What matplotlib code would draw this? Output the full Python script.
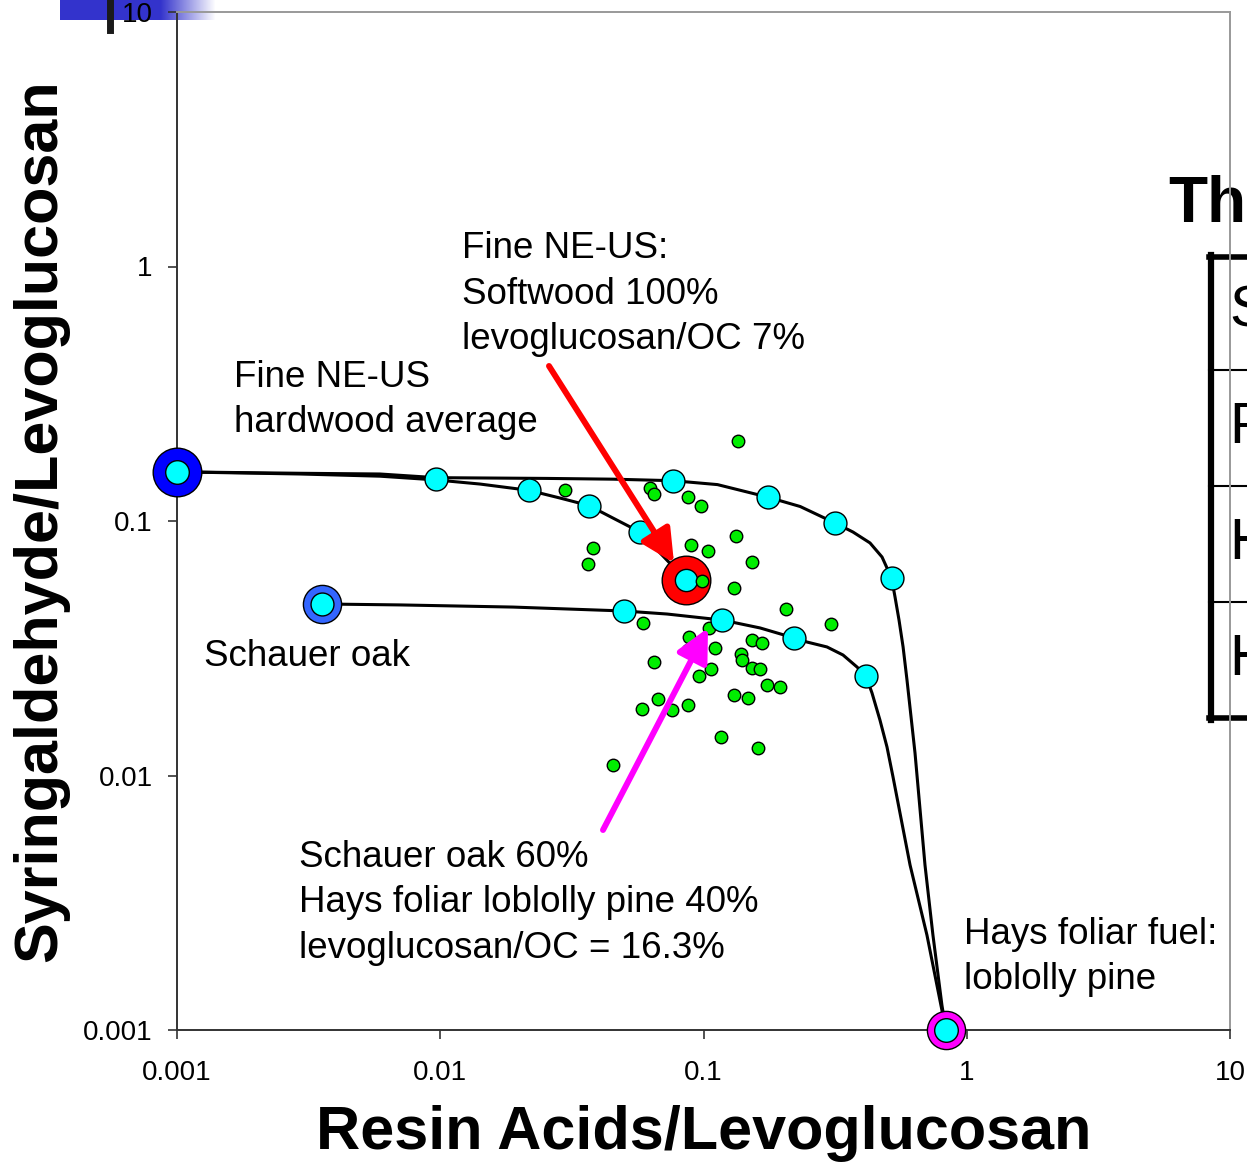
import matplotlib
matplotlib.use("Agg")
import matplotlib.pyplot as plt
from matplotlib.lines import Line2D
import numpy as np

plt.rcParams['font.family'] = ['Liberation Sans', 'DejaVu Sans']

# axis ticks
ticks = [0.001, 0.01, 0.1, 1, 10]
tick_labels = ["0.001", "0.01", "0.1", "1", "10"]

# end members (resin acids/levo, syringaldehyde/levo)
hardwood = (0.001, 0.156)
softwood = (0.0858, 0.0586)
schauer_oak = (0.00355, 0.0472)
loblolly = (0.834, 0.001)

# mixing curve: hardwood average -> Hays loblolly pine
hw_pine_x = [0.001, 0.00293, 0.0059, 0.00964, 0.0254, 0.0453, 0.0766, 0.113, 0.176, 0.233, 0.316,
             0.3697, 0.429, 0.4766, 0.518, 0.534, 0.553, 0.573, 0.593, 0.636, 0.694, 0.744, 0.805, 0.834]
hw_pine_y = [0.156, 0.154, 0.153, 0.148, 0.147, 0.146, 0.144, 0.139, 0.124, 0.114, 0.0982,
             0.0905, 0.0820, 0.0722, 0.0597, 0.0503, 0.0408, 0.0320, 0.0237, 0.01226, 0.00445,
             0.00236, 0.00125, 0.001]
hw_pine_mix_x = [0.00964, 0.0766, 0.176, 0.316, 0.518]
hw_pine_mix_y = [0.146, 0.144, 0.124, 0.0982, 0.0597]

# mixing curve: hardwood average -> softwood
hw_sw_x = [0.001, 0.00293, 0.0059, 0.00964, 0.01416, 0.0217, 0.0285, 0.0367, 0.0453, 0.0574, 0.0858]
hw_sw_y = [0.156, 0.153, 0.150, 0.145, 0.1397, 0.132, 0.1231, 0.115, 0.1027, 0.0905, 0.0586]
hw_sw_mix_x = [0.0217, 0.0367, 0.0574]
hw_sw_mix_y = [0.132, 0.115, 0.0905]

# mixing curve: Schauer oak -> Hays loblolly pine
oak_pine_x = [0.00355, 0.00703, 0.0189, 0.0499, 0.0727, 0.118, 0.164, 0.221, 0.247, 0.2944, 0.3388,
              0.3829, 0.414, 0.4366, 0.468, 0.4978, 0.5248, 0.609, 0.706, 0.798, 0.834]
oak_pine_y = [0.0472, 0.0468, 0.0459, 0.0443, 0.0431, 0.0408, 0.0380, 0.0347, 0.03346, 0.0320,
              0.02975, 0.02669, 0.0246, 0.0211, 0.01652, 0.01294, 0.00986, 0.00445, 0.00236,
              0.00125, 0.001]
oak_pine_mix_x = [0.0499, 0.118, 0.221, 0.414]
oak_pine_mix_y = [0.0443, 0.0408, 0.0347, 0.0246]

# ambient samples
amb_x = [0.135, 0.0298, 0.0626, 0.0649, 0.0873, 0.0978, 0.133, 0.0896, 0.104, 0.038, 0.0364, 0.153,
         0.0987, 0.131, 0.206, 0.305, 0.0589, 0.105, 0.0881, 0.0873, 0.0953, 0.111, 0.153, 0.167,
         0.139, 0.14, 0.0649, 0.107, 0.0961, 0.153, 0.164, 0.174, 0.195, 0.0672, 0.0584, 0.0759,
         0.0873, 0.131, 0.148, 0.117, 0.161, 0.0453]
amb_y = [0.206, 0.132, 0.135, 0.128, 0.124, 0.115, 0.0873, 0.0805, 0.0762, 0.0783, 0.0678, 0.069,
         0.0581, 0.0545, 0.0451, 0.0394, 0.0397, 0.038, 0.035, 0.0311, 0.0303, 0.0317, 0.0341, 0.0332,
         0.03, 0.0284, 0.0279, 0.0262, 0.0246, 0.0264, 0.0262, 0.0227, 0.0223, 0.02, 0.0183, 0.0181,
         0.0189, 0.0207, 0.0202, 0.0142, 0.0128, 0.011]

W, H = 1247, 1164
fig = plt.figure(figsize=(W / 100, H / 100), dpi=100)
fig.patch.set_facecolor("white")


def fxy(px, py):
    return (px / W, 1 - py / H)


# slide decoration at the top left
deco = fig.add_axes([60 / W, 1 - 20 / H, 160 / W, 20 / H], zorder=0)
n = 160
grad = np.ones((1, n, 3))
blue = np.array([0.2, 0.2, 0.8])
for i in range(n):
    t = 0.0 if i < 100 else min(1.0, (i - 100) / 55)
    grad[0, i] = blue * (1 - t) + np.ones(3) * t
deco.imshow(grad, aspect="auto", extent=[0, 1, 0, 1])
deco.axis("off")
fig.add_artist(Line2D([110 / W, 110 / W], [1, 1 - 30 / H], color="#1a1a1a", lw=5, zorder=1))

ax = fig.add_axes([177 / W, 1 - 1030 / H, 1053 / W, 1018 / H], zorder=2)
ax.patch.set_alpha(0)
ax.set_xscale("log")
ax.set_yscale("log")
ax.set_xlim(0.001, 10)
ax.set_ylim(0.001, 10)
ax.set_xticks(ticks, tick_labels)
ax.set_yticks(ticks, tick_labels)
ax.minorticks_off()
ax.tick_params(axis="both", direction="out", length=6.5, width=1.2, labelsize=20, color="#333333")
ax.tick_params(axis="x", pad=15)
ax.tick_params(axis="y", pad=11)
for s in ["left", "bottom"]:
    ax.spines[s].set_color("#333333")
    ax.spines[s].set_linewidth(1.4)
for s in ["top", "right"]:
    ax.spines[s].set_color("#999999")
    ax.spines[s].set_linewidth(1.4)

ax.set_xlabel("Resin Acids/Levoglucosan", fontsize=44, fontweight="bold", labelpad=14)
ax.set_ylabel("Syringaldehyde/Levoglucosan", fontsize=44, fontweight="bold", labelpad=10)

# mixing lines
for xs, ys in [(hw_pine_x, hw_pine_y), (hw_sw_x, hw_sw_y), (oak_pine_x, oak_pine_y)]:
    ax.plot(xs, ys, color="black", lw=2.2, zorder=3, clip_on=False, solid_joinstyle="round")

# ambient samples
ax.plot(amb_x, amb_y, "o", ms=9, mfc="#00EE00", mec="black", mew=1, zorder=4, ls="none")

# mixtures along the lines
for xs, ys in [(hw_pine_mix_x, hw_pine_mix_y), (hw_sw_mix_x, hw_sw_mix_y), (oak_pine_mix_x, oak_pine_mix_y)]:
    ax.plot(xs, ys, "o", ms=16.5, mfc="#00FFFF", mec="black", mew=1, zorder=5, ls="none")

# end members: outer ring + cyan centre
ends = [(hardwood, "#0000FF", 35, 17), (softwood, "#FF0000", 35, 16),
        (schauer_oak, "#3366FF", 27.5, 16.5), (loblolly, "#FF00FF", 27.5, 17)]
for (ex, ey), col, outer, inner in ends:
    ax.plot([ex], [ey], "o", ms=outer, mfc=col, mec="black", mew=1, zorder=6, clip_on=False)
    ax.plot([ex], [ey], "o", ms=inner, mfc="#00FFFF", mec="black", mew=1, zorder=7, clip_on=False)
# one ambient point sits on top of the softwood marker
ax.plot([amb_x[12]], [amb_y[12]], "o", ms=9, mfc="#00EE00", mec="black", mew=1, zorder=8)

# labels
tkw = dict(fontsize=26.5, linespacing=1.40, ha="left", va="center", transform=fig.transFigure)
fig.text(*fxy(462, 294), "Fine NE-US:\nSoftwood 100%\nlevoglucosan/OC 7%", **tkw)
fig.text(*fxy(234, 400), "Fine NE-US\nhardwood average", **tkw)
fig.text(*fxy(204, 657), "Schauer oak", **tkw)
fig.text(*fxy(299, 903), "Schauer oak 60%\nHays foliar loblolly pine 40%\nlevoglucosan/OC = 16.3%", **tkw)
fig.text(*fxy(964, 957), "Hays foliar fuel:\nloblolly pine", **tkw)

# arrows
arrow_style = "-|>,head_length=0.5,head_width=0.25"
ax.annotate("", xy=fxy(674, 563), xytext=fxy(549, 366), xycoords="figure fraction",
            textcoords="figure fraction",
            arrowprops=dict(arrowstyle=arrow_style, color="#FF0000",
                            lw=4.3, mutation_scale=40, shrinkA=0, shrinkB=0), zorder=9)
ax.annotate("", xy=fxy(708, 628), xytext=fxy(603, 830), xycoords="figure fraction",
            textcoords="figure fraction",
            arrowprops=dict(arrowstyle=arrow_style, color="#FF00FF",
                            lw=4.3, mutation_scale=40, shrinkA=0, shrinkB=0), zorder=9)

# neighbouring table, cut off at the right edge
fig.text(*fxy(1168, 222), "Th", fontsize=46, fontweight="bold", ha="left", va="baseline", zorder=1)
fig.add_artist(Line2D([1211 / W, 1211 / W], [1 - 255 / H, 1 - 720 / H], color="black", lw=4.5, zorder=1))
for yy, lw in [(257, 4), (718, 4), (370, 1.5), (486, 1.5), (602, 1.5)]:
    fig.add_artist(Line2D([1209 / W, 1], [1 - yy / H, 1 - yy / H], color="black", lw=lw, zorder=1))
for yy, ch in [(312, "S"), (428, "F"), (544, "H"), (660, "H")]:
    fig.text(*fxy(1229, yy), ch, fontsize=42, ha="left", va="center", zorder=1)

fig.savefig("out.png", dpi=100)
